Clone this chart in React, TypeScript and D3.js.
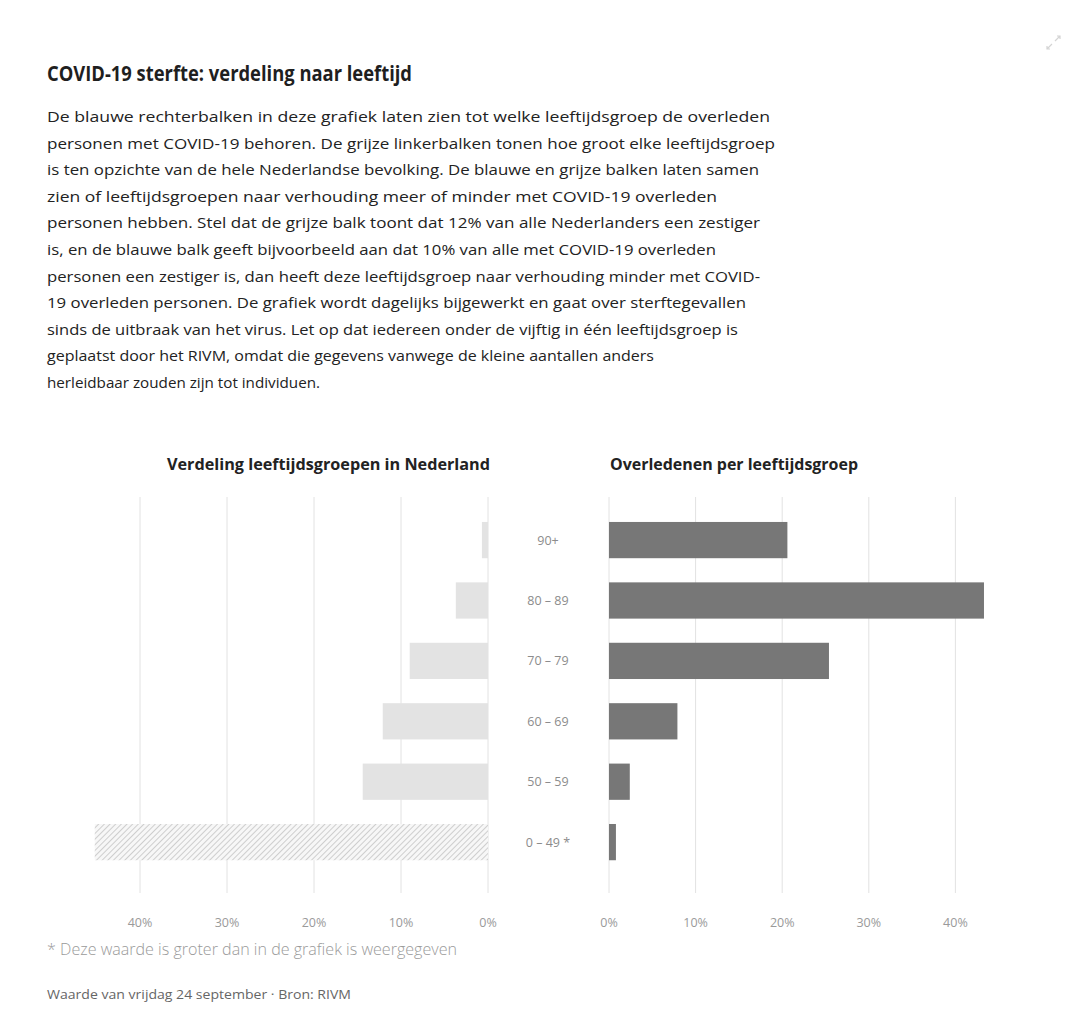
import React from "react";
import * as d3 from "d3";

const title = "COVID-19 sterfte: verdeling naar leeftijd";
const introLines = [
  "De blauwe rechterbalken in deze grafiek laten zien tot welke leeftijdsgroep de overleden",
  "personen met COVID-19 behoren. De grijze linkerbalken tonen hoe groot elke leeftijdsgroep",
  "is ten opzichte van de hele Nederlandse bevolking. De blauwe en grijze balken laten samen",
  "zien of leeftijdsgroepen naar verhouding meer of minder met COVID-19 overleden",
  "personen hebben. Stel dat de grijze balk toont dat 12% van alle Nederlanders een zestiger",
  "is, en de blauwe balk geeft bijvoorbeeld aan dat 10% van alle met COVID-19 overleden",
  "personen een zestiger is, dan heeft deze leeftijdsgroep naar verhouding minder met COVID-",
  "19 overleden personen. De grafiek wordt dagelijks bijgewerkt en gaat over sterftegevallen",
  "sinds de uitbraak van het virus. Let op dat iedereen onder de vijftig in één leeftijdsgroep is",
  "geplaatst door het RIVM, omdat die gegevens vanwege de kleine aantallen anders",
  "herleidbaar zouden zijn tot individuen.",
];
const introLineEnds = [770, 775, 759, 717, 760, 716, 760, 746, 738, 654, 320];
const leftTitle = "Verdeling leeftijdsgroepen in Nederland";
const rightTitle = "Overledenen per leeftijdsgroep";
const categories = ["90+", "80 – 89", "70 – 79", "60 – 69", "50 – 59", "0 – 49 *"];
const populationShare = [0.7, 3.7, 9.0, 12.1, 14.4, 60.0];
const deathShare = [20.6, 43.3, 25.4, 7.9, 2.4, 0.8];
const tickValues = [0, 10, 20, 30, 40];
const leftMax = 45.2;
const footnote = "* Deze waarde is groter dan in de grafiek is weergegeven";
const source = "Waarde van vrijdag 24 september · Bron: RIVM";

const FONT = "'Open Sans', 'Noto Sans', sans-serif";

export default function App() {
  const W = 1086, H = 1017;
  const y = d3.scaleBand<string>().domain(categories).range([497.8, 884.4]).padding(0.4);
  const xl = d3.scaleLinear().domain([0, 10]).range([488, 401]);
  const xr = d3.scaleLinear().domain([0, 10]).range([609, 695.6]);
  const gridTop = 497, gridBottom = 893;

  return (
    <svg width={W} height={H} style={{ position: "absolute", left: 0, top: 0, background: "#fff" }} fontFamily={FONT}>
      <defs>
        <pattern id="hatch" width="4" height="4" patternUnits="userSpaceOnUse" patternTransform="rotate(45)">
          <rect width="4" height="4" fill="#f7f7f7" />
          <line x1="0" y1="0" x2="0" y2="4" stroke="#c4c4c4" strokeWidth="1.6" />
        </pattern>
      </defs>
      <rect width={W} height={H} fill="#fff" />
      <g stroke="#d4d4d4" strokeWidth={1.2} fill="none">
        <path d="M1055 41 L1060 36 M1057 36 L1060 36 L1060 39" />
        <path d="M1047 49 L1052 44 M1047 46 L1047 49 L1050 49" />
      </g>
      <text x={47} y={81} fontSize={22} fontWeight={700} fill="#1f1f1f"
        textLength={365} lengthAdjust="spacingAndGlyphs">{title}</text>
      {introLines.map((l, i) => (
        <text key={i} x={47} y={122 + i * 26.6} fontSize={15} fill="#222"
          textLength={introLineEnds[i] - 47} lengthAdjust="spacingAndGlyphs">{l}</text>
      ))}

      <text x={167} y={470} fontSize={16} fontWeight={700} fill="#222"
        textLength={323} lengthAdjust="spacingAndGlyphs">{leftTitle}</text>
      <text x={610} y={470} fontSize={16} fontWeight={700} fill="#222"
        textLength={248} lengthAdjust="spacingAndGlyphs">{rightTitle}</text>

      {tickValues.map((t) => (
        <g key={"l" + t}>
          <line x1={xl(t)} x2={xl(t)} y1={gridTop} y2={gridBottom} stroke="#e2e2e2" strokeWidth={1} />
          <text x={xl(t)} y={927} fontSize={12.5} fill="#9a9a9a" textAnchor="middle">{t}%</text>
        </g>
      ))}
      {tickValues.map((t) => (
        <g key={"r" + t}>
          <line x1={xr(t)} x2={xr(t)} y1={gridTop} y2={gridBottom} stroke="#e2e2e2" strokeWidth={1} />
          <text x={xr(t)} y={927} fontSize={12.5} fill="#9a9a9a" textAnchor="middle">{t}%</text>
        </g>
      ))}

      {categories.map((c, i) => {
        const v = populationShare[i];
        const truncated = v > leftMax;
        const shown = Math.min(v, leftMax);
        const x0 = xl(shown);
        return (
          <rect key={"pl" + c} x={x0} y={y(c)} width={xl(0) - x0} height={y.bandwidth()}
            fill={truncated ? "url(#hatch)" : "#e3e3e3"} />
        );
      })}
      {categories.map((c, i) => (
        <rect key={"pr" + c} x={xr(0)} y={y(c)} width={xr(deathShare[i]) - xr(0)} height={y.bandwidth()}
          fill="#777777" />
      ))}
      {categories.map((c) => (
        <text key={"c" + c} x={548} y={(y(c) as number) + y.bandwidth() / 2 + 4.5} fontSize={12.5} fill="#8c8c8c" textAnchor="middle">{c}</text>
      ))}

      <text x={47} y={955} fontSize={15.5} fontWeight={300} fill="#9a9a9a"
        textLength={410} lengthAdjust="spacingAndGlyphs">{footnote}</text>
      <text x={47} y={999} fontSize={13.5} fill="#666"
        textLength={304} lengthAdjust="spacingAndGlyphs">{source}</text>
    </svg>
  );
}
